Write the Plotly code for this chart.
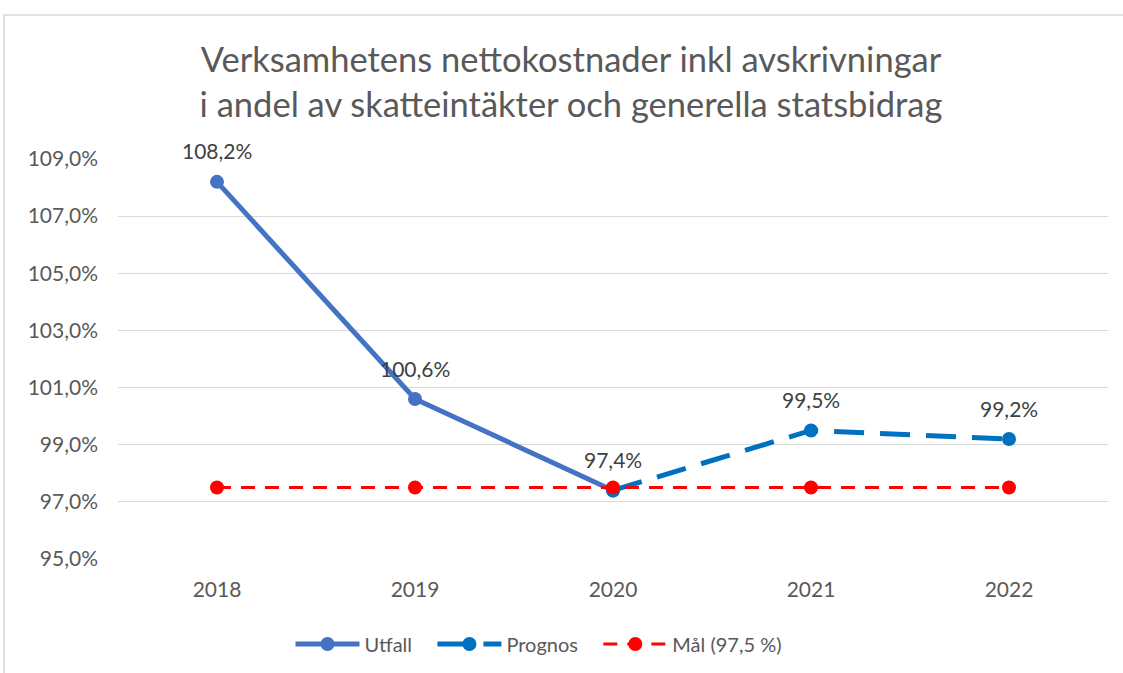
import plotly.graph_objects as go

years = ["2018", "2019", "2020", "2021", "2022"]
utfall = [108.2, 100.6, 97.4, None, None]
prognos = [None, None, 97.4, 99.5, 99.2]
mal = [97.5, 97.5, 97.5, 97.5, 97.5]
utfall_labels = ["108,2%", "100,6%", "97,4%", "", ""]
prognos_labels = ["", "", "", "99,5%", "99,2%"]
tick_vals = [95, 97, 99, 101, 103, 105, 107, 109]
tick_text = ["95,0%", "97,0%", "99,0%", "101,0%", "103,0%", "105,0%", "107,0%", "109,0%"]

FONT = "Lato"
GRAY = "#595959"
SP = "&nbsp;" * 3

fig = go.Figure()
fig.add_trace(go.Scatter(
    x=years, y=utfall, name="Utfall" + SP, mode="lines+markers",
    line=dict(color="#4472C4", width=5),
    marker=dict(color="#4472C4", size=14),
    cliponaxis=False,
))
fig.add_trace(go.Scatter(
    x=years, y=prognos, name="Prognos" + SP, mode="lines+markers",
    line=dict(color="#0070C0", width=5, dash="30px,16px"),
    marker=dict(color="#0070C0", size=14),
    cliponaxis=False,
))
fig.add_trace(go.Scatter(
    x=years, y=mal, name="Mål (97,5 %)", mode="lines+markers",
    line=dict(color="#FF0000", width=3, dash="14px,10px"),
    marker=dict(color="#FF0000", size=14),
    cliponaxis=False,
))

# data labels above the points (category index on the x axis)
for ys, labels in [(utfall, utfall_labels), (prognos, prognos_labels)]:
    for i, (yv, lab) in enumerate(zip(ys, labels)):
        if yv is not None and lab:
            fig.add_annotation(x=i, y=yv, xref="x", yref="y", text=lab, showarrow=False,
                               yshift=31, yanchor="middle", xanchor="center",
                               font=dict(family=FONT, size=21, color="#404040"))

fig.add_shape(type="rect", xref="paper", yref="paper",
              x0=-0.115, x1=1.2, y0=-0.5, y1=1.36,
              line=dict(color="#D9D9D9", width=1.5), fillcolor="rgba(0,0,0,0)", layer="below")

fig.update_layout(
    width=1123, height=673,
    margin=dict(l=118, r=15, t=159, b=114),
    paper_bgcolor="white", plot_bgcolor="white",
    font=dict(family=FONT, color=GRAY, size=18),
    title=dict(
        text="Verksamhetens nettokostnader inkl avskrivningar<br>i andel av skatteintäkter och generella statsbidrag",
        x=571/1123, xanchor="center", xref="container",
        y=1 - 72/673, yanchor="middle", yref="container",
        font=dict(family=FONT, size=34.5, color=GRAY),
    ),
    xaxis=dict(
        type="category", showgrid=False, showline=False, zeroline=False,
        ticks="", tickfont=dict(size=21, color=GRAY), range=[-0.5, 4.5],
        automargin=False, ticklabelstandoff=16,
    ),
    yaxis=dict(
        range=[95, 109], tickvals=tick_vals, ticktext=tick_text,
        showgrid=True, gridcolor="#D9D9D9", gridwidth=1.3,
        zeroline=False, showline=False, ticks="",
        tickfont=dict(size=21, color=GRAY), automargin=False,
        ticklabelstandoff=19,
    ),
    legend=dict(
        orientation="h", x=539/1123, xanchor="center", xref="container",
        y=1 - 644/673, yanchor="middle", yref="container",
        font=dict(size=20, color=GRAY), itemwidth=64,
    ),
    showlegend=True,
)

fig.write_html("out.html", config={"displayModeBar": False},
               post_script="document.body.style.margin='0';")
